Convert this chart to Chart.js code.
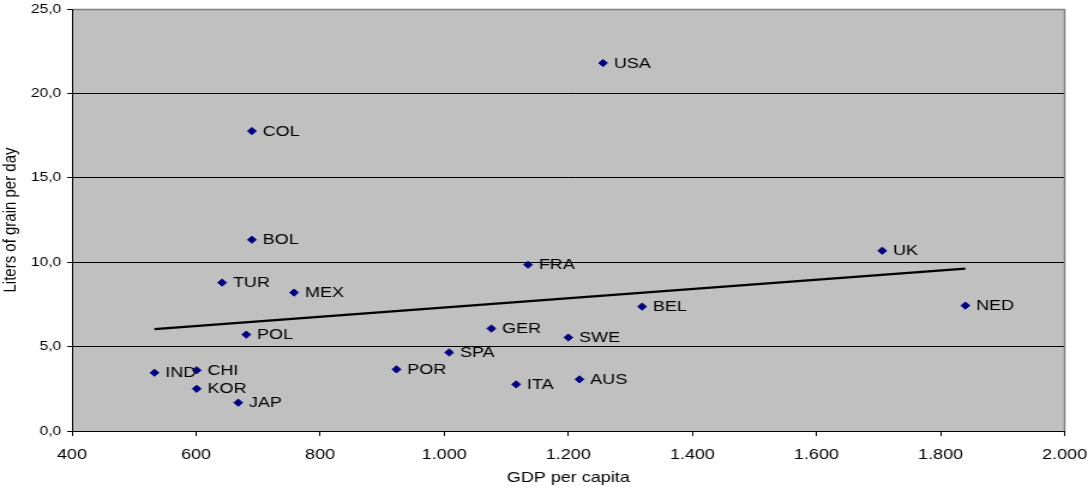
<!DOCTYPE html>
<html>
<head>
<meta charset="utf-8">
<script src="https://cdn.jsdelivr.net/npm/chart.js@4/dist/chart.umd.min.js"></script>
<style>
html,body{margin:0;padding:0;background:#fff;overflow:hidden;}
#wrap{width:907px;height:488px;transform:scaleX(1.19956);transform-origin:0 0;}
canvas{display:block;}
</style>
</head>
<body>
<div id="wrap"><canvas id="c" width="907" height="488" style="width:907px;height:488px"></canvas></div>
<script>
const countries = ['USA','COL','BOL','TUR','MEX','POL','IND','CHI','KOR','JAP','POR','SPA','GER','ITA','FRA','SWE','AUS','BEL','UK','NED'];
const gdpPerCapita = [1256,690,690,642,758,681,533,601,601,668,923,1008,1076,1116,1135,1200,1218,1319,1706,1840];
const litersPerDay = [21.8,17.77,11.33,8.79,8.2,5.71,3.45,3.60,2.50,1.68,3.65,4.65,6.07,2.76,9.85,5.54,3.06,7.37,10.68,7.43];
const trendX = [533,1840];
const trendY = [6.04,9.62];
const xTicks = [400,600,800,1000,1200,1400,1600,1800,2000];
const yTicks = [0,5,10,15,20,25];

const FONT = "'Liberation Sans', Arial, sans-serif";
Chart.defaults.color = '#000';
Chart.defaults.font.family = FONT;

const points = gdpPerCapita.map((x,i)=>({x:x,y:litersPerDay[i]}));
const trend = trendX.map((x,i)=>({x:x,y:trendY[i]}));

const bgPlugin = {
  id:'bg',
  beforeDraw(chart){
    const a = chart.chartArea, ctx = chart.ctx;
    ctx.save();
    ctx.fillStyle = '#C0C0C0';
    ctx.fillRect(a.left, a.top, a.right-a.left, a.bottom-a.top);
    ctx.restore();
  },
  afterDraw(chart){
    const a = chart.chartArea, ctx = chart.ctx;
    ctx.save();
    ctx.strokeStyle = '#808080';
    ctx.lineWidth = 1.5;
    ctx.beginPath();
    ctx.moveTo(a.left+1, Math.round(a.top)+0.5);
    ctx.lineTo(a.right, Math.round(a.top)+0.5);
    ctx.lineTo(a.right, a.bottom);
    ctx.stroke();
    ctx.restore();
  }
};

const labelPlugin = {
  id:'ptlabels',
  afterDatasetsDraw(chart){
    const meta = chart.getDatasetMeta(0);
    const ctx = chart.ctx;
    ctx.save();
    ctx.fillStyle = '#000';
    ctx.font = '15px ' + FONT;
    ctx.textAlign = 'left';
    ctx.textBaseline = 'alphabetic';
    meta.data.forEach((el,i)=>{
      ctx.fillText(countries[i], el.x + 9, el.y + 4.5);
    });
    ctx.restore();
  }
};

function fmtX(v){
  if (v >= 1000){ const t = Math.floor(v/1000); const r = String(v%1000).padStart(3,'0'); return t + '.' + r; }
  return String(v);
}

new Chart(document.getElementById('c'), {
  type:'scatter',
  data:{
    datasets:[
      {
        label:'Countries',
        data:points,
        pointStyle:'rectRot',
        pointRadius:3.6,
        pointBorderWidth:1,
        backgroundColor:'#000080',
        borderColor:'#000080',
        showLine:false
      },
      {
        type:'line',
        label:'Trend',
        data:trend,
        borderColor:'#000',
        borderWidth:2.2,
        pointRadius:0,
        fill:false
      }
    ]
  },
  options:{
    responsive:false,
    animation:false,
    layout:{padding:{top:9,right:19.5,left:0,bottom:0}},
    plugins:{legend:{display:false},tooltip:{enabled:false}},
    scales:{
      x:{
        type:'linear',
        min:400,max:2000,
        afterBuildTicks(s){ s.ticks = xTicks.map(v=>({value:v})); },
        afterFit(s){ s.height = 57; s.paddingLeft = 0; s.paddingRight = 0; },
        grid:{drawOnChartArea:false,drawTicks:true,tickLength:5,color:'#000'},
        border:{display:true,color:'#000',width:1},
        ticks:{font:{size:15,family:FONT},color:'#000',padding:10,maxRotation:0,callback:(v)=>fmtX(v)},
        title:{display:true,text:'GDP per capita',font:{size:15,family:FONT},color:'#000',padding:{top:0,bottom:1}}
      },
      y:{
        type:'linear',
        min:0,max:25,
        afterBuildTicks(s){ s.ticks = yTicks.map(v=>({value:v})); },
        afterFit(s){ s.width = 60; s.paddingTop = 0; s.paddingBottom = 0; },
        grid:{drawOnChartArea:true,drawTicks:true,tickLength:4,color:'#000',lineWidth:1},
        border:{display:true,color:'#000',width:1},
        ticks:{font:{size:13,family:FONT},color:'#000',padding:5,callback:(v)=>v.toFixed(1).replace('.',',')},
        title:{display:true,text:'Liters of grain per day',font:{size:15,family:FONT},color:'#000',padding:{top:0,bottom:0}}
      }
    }
  },
  plugins:[bgPlugin,labelPlugin]
});
</script>
</body>
</html>
